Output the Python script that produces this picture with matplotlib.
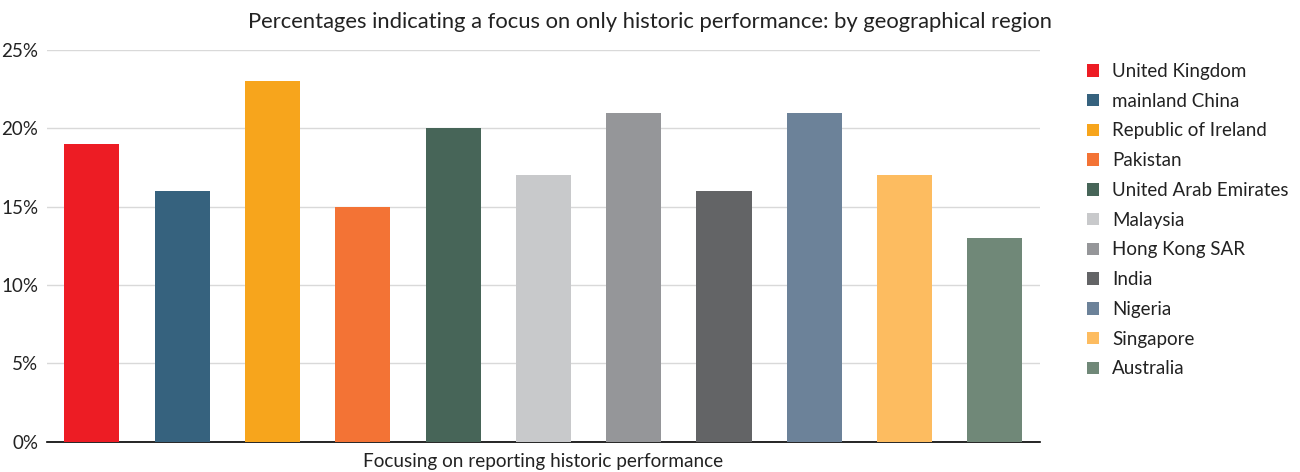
import matplotlib.pyplot as plt
from matplotlib.ticker import PercentFormatter

plt.rcParams['font.family'] = ['Lato', 'DejaVu Sans']

regions = ['United Kingdom', 'mainland China', 'Republic of Ireland', 'Pakistan',
           'United Arab Emirates', 'Malaysia', 'Hong Kong SAR', 'India',
           'Nigeria', 'Singapore', 'Australia']
values = [19, 16, 23, 15, 20, 17, 21, 16, 21, 17, 13]
colors = ['#ED1C24', '#36627E', '#F7A51C', '#F37335', '#476558', '#C8C9CB',
          '#959699', '#636466', '#6C8299', '#FDBC60', '#708878']
category = 'Focusing on reporting historic performance'

fig = plt.figure(figsize=(13, 4.72), dpi=100)
ax = fig.add_axes([0.036, 0.064, 0.764, 0.83])

positions = range(len(values))
bars = ax.bar(positions, values, width=0.61, color=colors, zorder=3)

ax.set_ylim(0, 25)
ax.set_xlim(-0.5, len(values) - 0.5)
ax.set_yticks([0, 5, 10, 15, 20, 25])
ax.yaxis.set_major_formatter(PercentFormatter(decimals=0))
ax.grid(axis='y', color='#d9d9d9', linewidth=1, zorder=0)
ax.set_xticks([])
ax.tick_params(axis='y', length=0, labelsize=13.5, colors='#222222', pad=6)
for s in ['top', 'right', 'left']:
    ax.spines[s].set_visible(False)
ax.spines['bottom'].set_color('#000000')
ax.spines['bottom'].set_linewidth(1.2)

ax.set_xlabel(category, fontsize=13.7, color='#222222', labelpad=8)
fig.suptitle('Percentages indicating a focus on only historic performance: by geographical region',
             x=0.5, y=0.975, fontsize=15.8, color='#222222')

ax.legend(bars, regions, loc='upper left', bbox_to_anchor=(1.03, 1.01),
          frameon=False, fontsize=13.5, handlelength=0.65, handleheight=0.65,
          handletextpad=0.7, labelspacing=0.68, labelcolor='#222222')

fig.savefig('out.png', dpi=100)
